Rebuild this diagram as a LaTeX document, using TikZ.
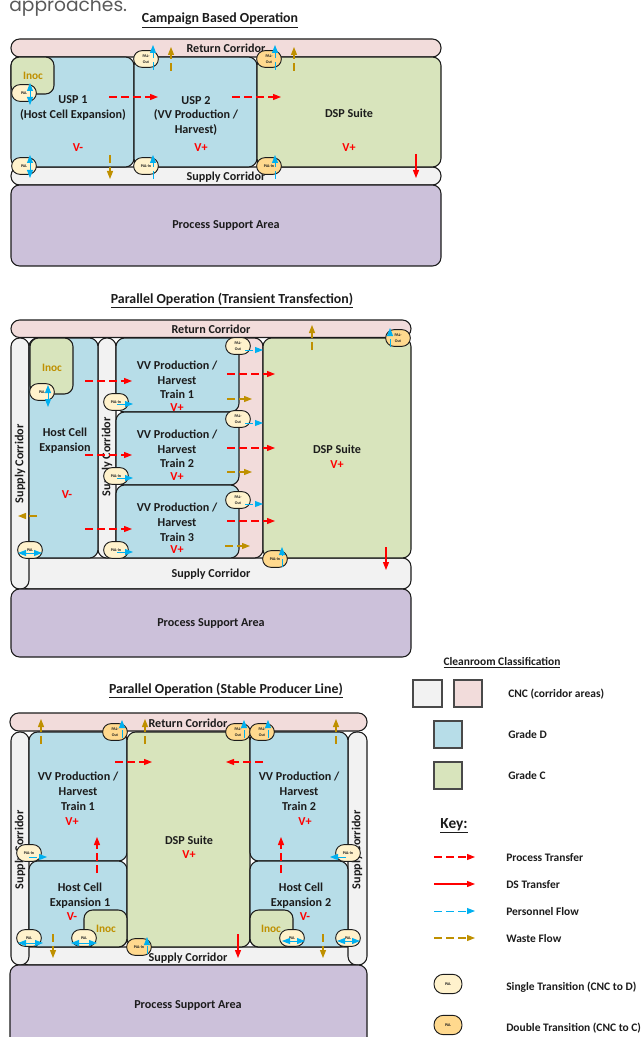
\documentclass[tikz,border=0pt]{standalone}
\usepackage{fontspec}
\setmainfont{Carlito}
\newfontfamily\leadfont{Poppins}
\usepackage{xcolor}
\usetikzlibrary{arrows.meta}

\definecolor{cnc}{HTML}{F2F2F2}
\definecolor{ret}{HTML}{F2DCDB}
\definecolor{gradeD}{HTML}{B7DDE8}
\definecolor{gradeC}{HTML}{D8E4BC}
\definecolor{support}{HTML}{CCC1DA}
\definecolor{palone}{HTML}{FFF2CC}
\definecolor{paltwo}{HTML}{FFD98E}
\definecolor{ink}{HTML}{1C1C1C}
\definecolor{people}{HTML}{00B0F0}
\definecolor{waste}{HTML}{BF9000}

\tikzset{
  room/.style={draw=ink, line width=0.8pt, rounded corners=6.5pt},
  swatch/.style={draw=ink!80, line width=0.8pt},
  lab/.style={text=ink, align=center, inner sep=0pt, yshift=-0.6pt, font=\bfseries\fontsize{9.1}{10.9}\selectfont},
  side/.style={lab, rotate=90},
  title/.style={lab, yshift=-1.2pt, font=\bfseries\fontsize{10.4}{12}\selectfont},
  keytext/.style={lab, anchor=west, font=\bfseries\fontsize{8.6}{10}\selectfont},
  vclass/.style={lab, text=red},
  inoc/.style={lab, text=waste, font=\bfseries\fontsize{8.5}{10}\selectfont},
  pal/.style={draw=ink, line width=0.7pt, rounded corners=6.2pt, fill=palone, minimum width=18.5pt, minimum height=12.5pt, inner sep=0pt, align=center, text=ink, font=\bfseries\fontsize{3}{4.5}\selectfont},
  palx/.style={pal, fill=paltwo},
  tip/.style={-{Triangle[length=6pt,width=4.5pt]}},
  proc/.style={tip, red, line width=0.85pt, dash pattern=on 6pt off 3pt},
  ds/.style={tip, red, line width=0.85pt},
  walk/.style={tip, people, line width=0.7pt, dash pattern=on 6pt off 3pt},
  walkboth/.style={{Triangle[length=6pt,width=4.5pt]}-{Triangle[length=6pt,width=4.5pt]}, people, line width=0.7pt},
  bin/.style={tip, waste, line width=0.85pt, dash pattern=on 6pt off 3pt}
}

\begin{document}
\begin{tikzpicture}[x=0.75pt, y=-0.75pt]
  \useasboundingbox (0,0) rectangle (642,1037);
  \clip (0,0) rectangle (642,1037);

  \node[anchor=base west, inner sep=0pt, text=black!65, font=\leadfont\fontsize{14}{15}\selectfont] (lead) at (9,12) {approaches.};

  \node[title] (t1) at (220,18) {\underline{Campaign Based Operation}};

  \draw[room, fill=ret] (11,39) rectangle (441,57);
  \draw[room, fill=cnc] (11,167) rectangle (441,185);
  \draw[room, fill=support] (11,185) rectangle (441,266);
  \node[lab] (ret1) at (226,47) {Return Corridor};
  \node[lab] (sup1) at (226,176) {Supply Corridor};
  \node[lab] (psa1) at (226,225) {Process Support Area};

  \draw[room, fill=gradeD] (11,57) rectangle (134,167);
  \draw[room, fill=gradeD] (134,57) rectangle (257,167);
  \draw[room, fill=gradeC] (257,57) rectangle (441,167);
  \draw[room, fill=gradeC] (11,57) rectangle (54,94);
  \node[inoc] (inoc1) at (33,75) {Inoc};
  \node[lab] (usp1) at (73,107) {USP 1\\(Host Cell Expansion)};
  \node[lab] (usp2) at (196,115) {USP 2\\(VV Production /\\Harvest)};
  \node[lab] (dsp1) at (349,112) {DSP Suite};
  \node[vclass] (v1a) at (78,147) {V-};
  \node[vclass] (v1b) at (201,147) {V+};
  \node[vclass] (v1c) at (349,147) {V+};

  \node[pal] (p1a) at (24,93) {PAL};
  \node[pal] (p1b) at (24,166) {PAL};
  \node[pal] (p1c) at (146,166) {PAL-In};
  \node[pal] (p1d) at (146,59) {PAL-\\Out};
  \node[palx] (p1e) at (269,59) {PAL-\\Out};
  \node[palx] (p1f) at (269,166) {PAL-In};

  \draw[proc] (109,97) -- (158,97);
  \draw[proc] (232,97) -- (281,97);
  \draw[ds] (416,154) -- (416,178);
  \draw[walkboth] (30,83) -- (30,105);
  \draw[walkboth] (30,155) -- (30,178);
  \draw[walk] (153,70) -- (153,45);
  \draw[walk] (275,70) -- (275,45);
  \draw[walk] (153,179) -- (153,155);
  \draw[walk] (275,179) -- (275,155);
  \draw[bin] (171,71) -- (171,47);
  \draw[bin] (294,71) -- (294,47);
  \draw[bin] (110,155) -- (110,179);

  \node[title] (t2) at (232,298.5) {\underline{Parallel Operation (Transient Transfection)}};

  \draw[room, fill=ret] (11,320) rectangle (411,337.5);
  \draw[room, fill=cnc] (20,558) rectangle (411,589);
  \draw[room, fill=cnc] (11,338) rectangle (29,589);
  \draw[room, fill=cnc] (98,338) rectangle (116,558);
  \draw[room, fill=ret] (225,338) rectangle (263,558);
  \draw[room, fill=support] (11,589) rectangle (411,657);
  \node[lab] (ret2) at (211,328) {Return Corridor};
  \node[lab] (sup2) at (211,573) {Supply Corridor};
  \node[side] (sup2a) at (20,463) {Supply Corridor};
  \node[side] (sup2b) at (107,456) {Supply Corridor};
  \node[lab] (psa2) at (211,623) {Process Support Area};

  \draw[room, fill=gradeD] (29,338) rectangle (98,558);
  \draw[room, fill=gradeC] (30,338) rectangle (73,394);
  \draw[room, fill=gradeD] (116,338) rectangle (239,412);
  \draw[room, fill=gradeD] (116,412) rectangle (239,485);
  \draw[room, fill=gradeD] (116,485) rectangle (239,558);
  \draw[room, fill=gradeC] (263,338) rectangle (411,558);
  \node[inoc] (inoc2) at (52,367) {Inoc};
  \node[lab] (host2) at (65,440) {Host Cell\\Expansion};
  \node[lab] (vv2a) at (177,379) {VV Production /\\Harvest\\Train 1};
  \node[lab] (vv2b) at (177,448) {VV Production /\\Harvest\\Train 2};
  \node[lab] (vv2c) at (177,521.5) {VV Production /\\Harvest\\Train 3};
  \node[lab] (dsp2) at (337,448) {DSP Suite};
  \node[vclass] (v2a) at (67,494) {V-};
  \node[vclass] (v2b) at (177,407) {V+};
  \node[vclass] (v2c) at (177,476) {V+};
  \node[vclass] (v2d) at (177,549) {V+};
  \node[vclass] (v2e) at (337,464) {V+};

  \node[pal] (p2a) at (42,392) {PAL};
  \node[pal] (p2b) at (30,550) {PAL};
  \node[pal] (p2c) at (116,402) {PAL-In};
  \node[pal] (p2d) at (116,476) {PAL-In};
  \node[pal] (p2e) at (116,550) {PAL-In};
  \node[pal] (p2f) at (238,346) {PAL-\\Out};
  \node[pal] (p2g) at (238,419) {PAL-\\Out};
  \node[pal] (p2h) at (238,500) {PAL-\\Out};
  \node[palx] (p2i) at (275,559) {PAL-In};
  \node[palx] (p2j) at (398,338) {PAL-\\Out};

  \draw[proc] (85,381) -- (132,381);
  \draw[proc] (85,455) -- (132,455);
  \draw[proc] (85,529) -- (132,529);
  \draw[proc] (227,374) -- (275,374);
  \draw[proc] (227,448) -- (275,448);
  \draw[proc] (227,521) -- (275,521);
  \draw[ds] (386,547) -- (386,570);
  \draw[bin] (227,399) -- (252,399);
  \draw[bin] (227,472) -- (252,472);
  \draw[bin] (225,546) -- (250,546);
  \draw[bin] (312,350) -- (312,325);
  \draw[bin] (37,516) -- (18,516);
  \draw[walk] (245,350) -- (263,350);
  \draw[walk] (245,423) -- (263,423);
  \draw[walk] (245,504) -- (263,504);
  \draw[walk] (117,404) -- (133,404);
  \draw[walk] (117,478) -- (133,478);
  \draw[walk] (117,552) -- (133,552);
  \draw[walk] (282,567) -- (282,547);
  \draw[walk] (390,347) -- (390,328);
  \draw[walkboth] (48,385) -- (48,407);
  \draw[walkboth] (18,553) -- (42,553);

  \node[title] (t3) at (226,688) {\underline{Parallel Operation (Stable Producer Line)}};

  \draw[room, fill=ret] (10,713) rectangle (367,731);
  \draw[room, fill=cnc] (20,947) rectangle (358,965);
  \draw[room, fill=cnc] (11,732) rectangle (29,965);
  \draw[room, fill=cnc] (348,732) rectangle (367,965);
  \draw[room, fill=support] (10,965) rectangle (367,1050);
  \node[lab] (ret3) at (188,722) {Return Corridor};
  \node[lab] (sup3) at (188,957) {Supply Corridor};
  \node[side] (sup3a) at (20,849) {Supply Corridor};
  \node[side] (sup3b) at (357,849) {Supply Corridor};
  \node[lab] (psa3) at (188,1005) {Process Support Area};

  \draw[room, fill=gradeD] (29,732) rectangle (127,861);
  \draw[room, fill=gradeD] (29,861) rectangle (127,947);
  \draw[room, fill=gradeC] (127,732) rectangle (250,947);
  \draw[room, fill=gradeD] (250,732) rectangle (348,861);
  \draw[room, fill=gradeD] (250,861) rectangle (348,947);
  \draw[room, fill=gradeC] (84,910) rectangle (127,947);
  \draw[room, fill=gradeC] (250,910) rectangle (293,947);
  \node[inoc] (inoc3a) at (106,928) {Inoc};
  \node[inoc] (inoc3b) at (271,928) {Inoc};
  \node[lab] (vv3a) at (78,790.5) {VV Production /\\Harvest\\Train 1};
  \node[lab] (vv3b) at (299,790.5) {VV Production /\\Harvest\\Train 2};
  \node[lab] (host3a) at (80,895) {Host Cell\\Expansion 1};
  \node[lab] (host3b) at (301,895) {Host Cell\\Expansion 2};
  \node[lab] (dsp3) at (189,839) {DSP Suite};
  \node[vclass] (v3a) at (72,821) {V+};
  \node[vclass] (v3b) at (305,821) {V+};
  \node[vclass] (v3c) at (72,916) {V-};
  \node[vclass] (v3d) at (305,916) {V-};
  \node[vclass] (v3e) at (189,854) {V+};

  \node[pal] (p3a) at (29,853) {PAL-In};
  \node[pal] (p3b) at (348,853) {PAL-In};
  \node[pal] (p3c) at (29,938) {PAL};
  \node[pal] (p3d) at (84,938) {PAL};
  \node[pal] (p3e) at (292,938) {PAL};
  \node[pal] (p3f) at (348,938) {PAL};
  \node[palx] (p3g) at (115,732) {PAL-\\Out};
  \node[palx] (p3h) at (238,732) {PAL-\\Out};
  \node[palx] (p3i) at (262,732) {PAL-\\Out};
  \node[palx] (p3j) at (139,947) {PAL-In};

  \draw[proc] (115,762) -- (152,762);
  \draw[proc] (263,762) -- (226,762);
  \draw[proc] (97,873) -- (97,837);
  \draw[proc] (281,873) -- (281,837);
  \draw[ds] (238,934) -- (238,958);
  \draw[bin] (41,744) -- (41,719);
  \draw[bin] (145,744) -- (145,719);
  \draw[bin] (336,744) -- (336,719);
  \draw[bin] (53,934) -- (53,958);
  \draw[bin] (323,934) -- (323,958);
  \draw[walk] (122,738) -- (122,720);
  \draw[walk] (244,738) -- (244,720);
  \draw[walk] (268,738) -- (268,720);
  \draw[walk] (147,954) -- (147,937);
  \draw[walk] (29,857) -- (47,857);
  \draw[walk] (346,857) -- (330,857);
  \draw[walkboth] (18,943) -- (43,943);
  \draw[walkboth] (71,943) -- (97,943);
  \draw[walkboth] (282,941) -- (305,941);
  \draw[walkboth] (337,941) -- (360,941);

  \node[keytext, anchor=center] (cls) at (502,662) {\underline{Cleanroom Classification}};
  \draw[swatch, fill=cnc] (413,680) rectangle (442,707);
  \draw[swatch, fill=ret] (454,680) rectangle (482,707);
  \draw[swatch, fill=gradeD] (434,721) rectangle (462,748);
  \draw[swatch, fill=gradeC] (434,762) rectangle (462,789);
  \node[keytext] (k1) at (508,693) {CNC (corridor areas)};
  \node[keytext] (k2) at (508,734) {Grade D};
  \node[keytext] (k3) at (508,775) {Grade C};

  \node[lab, font=\bfseries\fontsize{11.5}{13}\selectfont] (key) at (454,825) {\underline{Key:}};
  \draw[proc] (434,857) -- (475,857);
  \draw[ds] (434,884) -- (475,884);
  \draw[walk] (434,911) -- (475,911);
  \draw[bin] (434,938) -- (475,938);
  \node[keytext] (k4) at (506,857) {Process Transfer};
  \node[keytext] (k5) at (506,884) {DS Transfer};
  \node[keytext] (k6) at (506,911) {Personnel Flow};
  \node[keytext] (k7) at (506,938) {Waste Flow};

  \node[pal, minimum width=21pt, minimum height=14.5pt, rounded corners=7pt] (palone) at (448,984) {PAL};
  \node[palx, minimum width=21pt, minimum height=14.5pt, rounded corners=7pt] (paltwo) at (448,1025) {PAL};
  \node[keytext] (k8) at (506,986) {Single Transition (CNC to D)};
  \node[keytext] (k9) at (506,1027) {Double Transition (CNC to C)};
\end{tikzpicture}
\end{document}
